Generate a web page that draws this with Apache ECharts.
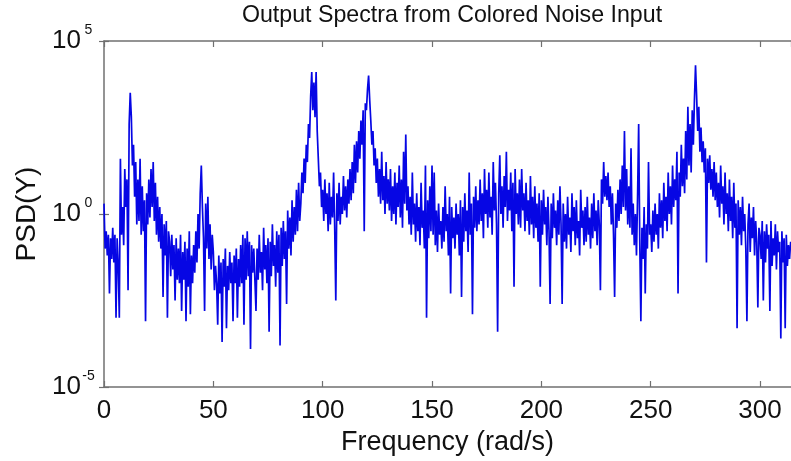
<!DOCTYPE html>
<html>
<head>
<meta charset="utf-8">
<script src="https://cdn.jsdelivr.net/npm/echarts@6/dist/echarts.min.js"></script>
<style>
html,body{margin:0;padding:0;background:#fff;}
#chart{width:791px;height:461px;}
</style>
</head>
<body>
<div id="chart"></div>
<script>
// ---- data ----
const titleText = 'Output Spectra from Colored Noise Input';
const xName = 'Frequency (rad/s)';
const yName = 'PSD(Y)';
const xTicks = [0, 50, 100, 150, 200, 250, 300];
const yTickExponents = [-5, 0, 5];
const freqStep = 0.5;      // rad/s between samples, starting at 0
const freqMax = 314.16;
// log10 of PSD at each sample (0, 0.5, 1.0, ... rad/s)
const psdLog10 = [
  // 0 - 10
  0.3,-1.0,-0.5,-1.2,-0.6,-2.3,-0.7,-1.3,-0.4,-1.4,-0.6,-3.0,-0.7,-1.5,-3.0,1.6,-0.6,0.2,-0.9,1.3,
  // 10 - 20
  0.2,1.0,-2.2,2.6,3.5,2.8,1.4,2.0,0.5,1.5,-0.3,1.0,-0.2,1.6,-0.6,0.8,-0.5,0.4,-3.1,0.6,
  // 20 - 30
  -0.3,1.0,-0.1,1.3,0.2,1.5,-0.2,0.9,-0.6,0.5,-0.8,0.2,-1.0,0.0,-2.4,-0.3,-1.2,-0.2,-3.0,-0.5,
  // 30 - 40
  -0.8,-1.8,-0.6,-1.6,-0.9,-2.5,-0.7,-1.9,-1.0,-2.0,-0.6,-2.8,-1.1,-1.9,-0.8,-3.1,-1.0,-2.1,-0.5,-2.9,
  // 40 - 50
  -1.2,-2.0,-0.9,-1.7,-0.5,-1.4,0.0,-1.0,0.6,1.4,0.2,-0.7,-2.8,0.3,-1.0,0.5,-1.3,-0.3,-1.6,-0.6,
  // 50 - 60
  -1.1,-2.2,-1.5,-2.0,-3.2,-1.2,-2.3,-1.4,-3.7,-1.3,-2.1,-1.0,-3.3,-1.5,-2.2,-1.1,-2.0,-1.4,-3.1,-1.2,
  // 60 - 70
  -2.0,-1.0,-3.0,-1.3,-2.1,-0.9,-2.0,-0.6,-3.2,-0.7,-1.9,-0.5,-1.8,-0.8,-3.9,-0.9,-1.7,-1.0,-1.9,-2.8,
  // 70 - 80
  -1.0,-1.9,-0.6,-1.7,-1.1,-2.2,-0.4,-1.6,-0.9,-2.0,-0.7,-3.4,-0.8,-1.8,-0.3,-1.5,-0.9,-2.1,-0.5,-1.7,
  // 80 - 90
  -0.6,-3.8,-0.4,-1.5,-0.2,-1.3,-0.5,-2.6,0.1,-1.0,-0.1,-1.2,0.4,-0.8,0.2,-0.6,0.7,-0.5,0.9,-0.2,
  // 90 - 100
  0.3,1.2,0.6,1.6,0.9,2.0,1.5,2.6,2.2,3.4,4.1,3.0,3.8,2.8,4.1,2.4,1.6,0.8,1.2,0.2,
  // 100 - 110
  0.7,-0.2,1.0,0.0,0.6,-0.5,0.9,-0.3,0.5,-0.1,1.2,-0.4,-2.5,0.6,-0.2,0.9,-0.3,0.5,0.0,1.1,
  // 110 - 120
  0.1,0.8,-0.1,1.0,0.3,1.3,0.4,1.5,0.6,2.0,0.9,2.1,1.2,2.4,1.6,2.7,2.0,3.0,-0.5,3.2,
  // 120 - 130
  3.0,3.6,4.0,3.3,2.7,2.0,2.4,1.4,1.9,0.9,1.6,0.5,1.3,0.3,1.8,0.4,1.1,0.0,1.5,0.3,
  // 130 - 140
  1.0,0.1,1.3,-0.2,0.8,0.0,1.2,-0.3,0.9,0.2,1.4,-0.1,1.0,-0.4,1.8,0.3,2.3,0.1,0.8,-0.3,
  // 140 - 150
  0.5,-0.6,1.2,-0.3,0.3,-0.8,0.6,-0.5,0.2,-0.9,0.9,-0.4,0.1,-1.0,1.4,-3.0,0.4,-0.7,0.8,-0.5,
  // 150 - 160
  1.4,-0.6,1.2,-0.9,0.1,-1.1,0.3,-0.6,-0.2,-1.0,0.2,-0.8,0.8,-0.5,0.0,-1.2,0.5,-2.3,0.2,-0.7,
  // 160 - 170
  -0.1,-1.0,0.3,-0.6,0.0,-1.2,0.4,-2.4,0.2,-0.8,0.6,-0.5,0.1,-1.1,1.2,-0.6,0.3,-2.9,0.5,-0.4,
  // 170 - 180
  0.8,-0.5,0.4,-0.3,1.0,-0.2,0.6,-0.7,1.3,0.0,0.7,-0.4,1.2,-0.1,0.5,-0.6,1.5,0.1,0.9,-0.3,
  // 180 - 190
  -3.4,0.6,1.7,0.0,0.8,-0.4,1.1,0.2,1.8,-0.2,0.7,0.1,1.2,-0.5,0.9,-2.1,1.3,0.0,0.6,-0.3,
  // 190 - 200
  1.0,-0.4,1.3,0.1,0.6,-0.5,0.9,-0.2,0.4,-0.6,1.1,-0.3,0.5,-0.7,0.8,-0.4,0.3,-0.8,0.6,-2.1,
  // 200 - 210
  0.4,-0.6,0.7,-0.3,0.2,-0.9,0.5,-0.5,-2.6,0.3,-0.7,0.6,-0.4,0.1,-0.9,0.4,-0.6,0.8,-0.3,-2.6,
  // 210 - 220
  0.3,-0.8,0.0,-1.0,0.5,-0.6,-0.1,-1.1,0.6,-0.5,0.2,-0.9,0.4,-0.7,-0.2,-1.2,0.7,-0.4,0.1,-0.9,
  // 220 - 230
  0.2,-0.8,0.5,-0.6,-0.1,-1.0,0.3,-0.7,0.6,-0.5,0.1,-0.9,0.4,-0.3,-2.2,1.0,0.3,1.5,0.5,1.1,
  // 230 - 240
  0.4,1.2,0.2,0.8,-0.3,0.6,-0.6,-2.4,0.3,-0.4,0.7,-0.2,1.0,0.0,1.4,0.2,2.4,0.1,1.3,-0.3,
  // 240 - 250
  0.8,-0.4,1.9,-0.6,0.3,-0.9,0.0,-1.2,0.5,2.6,-0.8,-3.1,-0.4,-1.3,0.2,-2.3,-0.3,-1.0,1.5,-0.6,
  // 250 - 260
  -0.3,-1.1,0.1,-0.8,0.3,-0.6,0.0,-1.0,0.6,-0.4,0.4,-0.7,0.9,-0.2,0.5,-0.5,1.2,0.0,0.8,-0.3,
  // 260 - 270
  1.4,0.2,1.0,0.4,1.8,-2.3,1.2,0.5,2.0,0.8,1.6,0.6,2.4,1.0,3.1,1.4,2.6,1.2,3.0,2.0,
  // 270 - 280
  3.3,4.3,3.4,2.4,3.1,1.8,2.5,1.5,2.1,1.2,1.9,-1.4,1.6,0.9,1.7,0.7,1.3,0.5,1.5,0.4,
  // 280 - 290
  1.2,0.2,0.9,-0.1,1.4,0.3,0.8,-0.3,1.2,0.0,0.6,-0.5,1.0,-0.2,0.5,-0.7,0.9,-0.4,0.3,-3.3,
  // 290 - 300
  0.4,-0.6,0.2,-0.9,0.5,-0.5,0.0,-1.0,-3.1,-0.3,0.3,-1.1,-0.1,-0.7,0.2,-1.2,-0.2,-0.8,-2.7,-0.4,
  // 300 - 310
  -0.6,-1.3,-0.2,-2.5,-0.5,-1.4,-0.3,-1.0,-0.6,-2.8,-0.2,-1.5,-0.7,-1.2,-0.3,-1.6,-0.5,-1.1,-0.8,-3.6,
  // 310 - 314
  -0.5,-1.4,-0.7,-3.3,-0.6,-1.5,-0.9,-1.3,-0.8
];

// ---- build series data ----
const seriesData = psdLog10.map((e, i) => [i * freqStep, Math.pow(10, e)]);

const FONT = '"Liberation Sans", Arial, Helvetica, sans-serif';
const AXIS_COLOR = '#707070';

const chart = echarts.init(document.getElementById('chart'), null, {renderer: 'canvas'});

const expLabel = v => {
  const e = Math.round(Math.log10(v));
  return '{b|10}{s|' + e + '}';
};

const option = {
  animation: false,
  backgroundColor: '#ffffff',
  title: {
    text: titleText,
    left: 447,
    top: -1,
    textAlign: 'center',
    textStyle: {fontFamily: FONT, fontSize: 23.2, fontWeight: 'normal', color: '#111'}
  },
  grid: {left: 104, top: 41, width: 690, bottom: 74, show: false},
  xAxis: [{
    type: 'value',
    min: 0, max: freqMax, interval: 50,
    position: 'bottom',
    name: xName, nameLocation: 'middle', nameGap: 37,
    nameTextStyle: {fontFamily: FONT, fontSize: 27, color: '#111'},
    axisLine: {show: true, lineStyle: {color: AXIS_COLOR, width: 1.5}},
    axisTick: {show: true, inside: true, length: 6, lineStyle: {color: AXIS_COLOR, width: 1.2}},
    axisLabel: {
      fontFamily: FONT, fontSize: 26, color: '#111', margin: 11,
      showMaxLabel: false,
      formatter: v => (xTicks.indexOf(v) >= 0 ? String(v) : '')
    },
    splitLine: {show: false}
  }, {
    type: 'value',
    min: 0, max: freqMax, interval: 50,
    position: 'top',
    axisLine: {show: true, onZero: false, lineStyle: {color: AXIS_COLOR, width: 1.5}},
    axisTick: {show: true, inside: true, length: 6, lineStyle: {color: AXIS_COLOR, width: 1.2}},
    axisLabel: {show: false},
    splitLine: {show: false}
  }],
  yAxis: [{
    type: 'log',
    logBase: 100000,
    min: Math.pow(10, yTickExponents[0]),
    max: Math.pow(10, yTickExponents[yTickExponents.length - 1]),
    position: 'left',
    name: yName, nameLocation: 'middle', nameGap: 56,
    nameTextStyle: {fontFamily: FONT, fontSize: 28, color: '#111'},
    axisLine: {show: true, lineStyle: {color: AXIS_COLOR, width: 1.5}},
    axisTick: {show: true, inside: true, length: 5, lineStyle: {color: AXIS_COLOR, width: 1.2}},
    axisLabel: {
      margin: 8,
      formatter: expLabel,
      rich: {
        b: {fontFamily: FONT, fontSize: 26, color: '#111', lineHeight: 26},
        s: {fontFamily: FONT, fontSize: 14, color: '#111', lineHeight: 14, padding: [0, 0, 22, 0], width: 15, align: 'left'}
      }
    },
    splitLine: {show: false}
  }, {
    type: 'log',
    logBase: 100000,
    min: Math.pow(10, yTickExponents[0]),
    max: Math.pow(10, yTickExponents[yTickExponents.length - 1]),
    position: 'right',
    axisLine: {show: false},
    axisTick: {show: true, inside: true, length: 5, lineStyle: {color: AXIS_COLOR, width: 1.2}},
    axisLabel: {show: false},
    splitLine: {show: false}
  }],
  series: [{
    type: 'line',
    xAxisIndex: 0,
    yAxisIndex: 0,
    data: seriesData,
    showSymbol: false,
    symbol: 'none',
    sampling: null,
    lineStyle: {color: '#0606e4', width: 1.7},
    silent: true
  }]
};

chart.setOption(option);
</script>
</body>
</html>
